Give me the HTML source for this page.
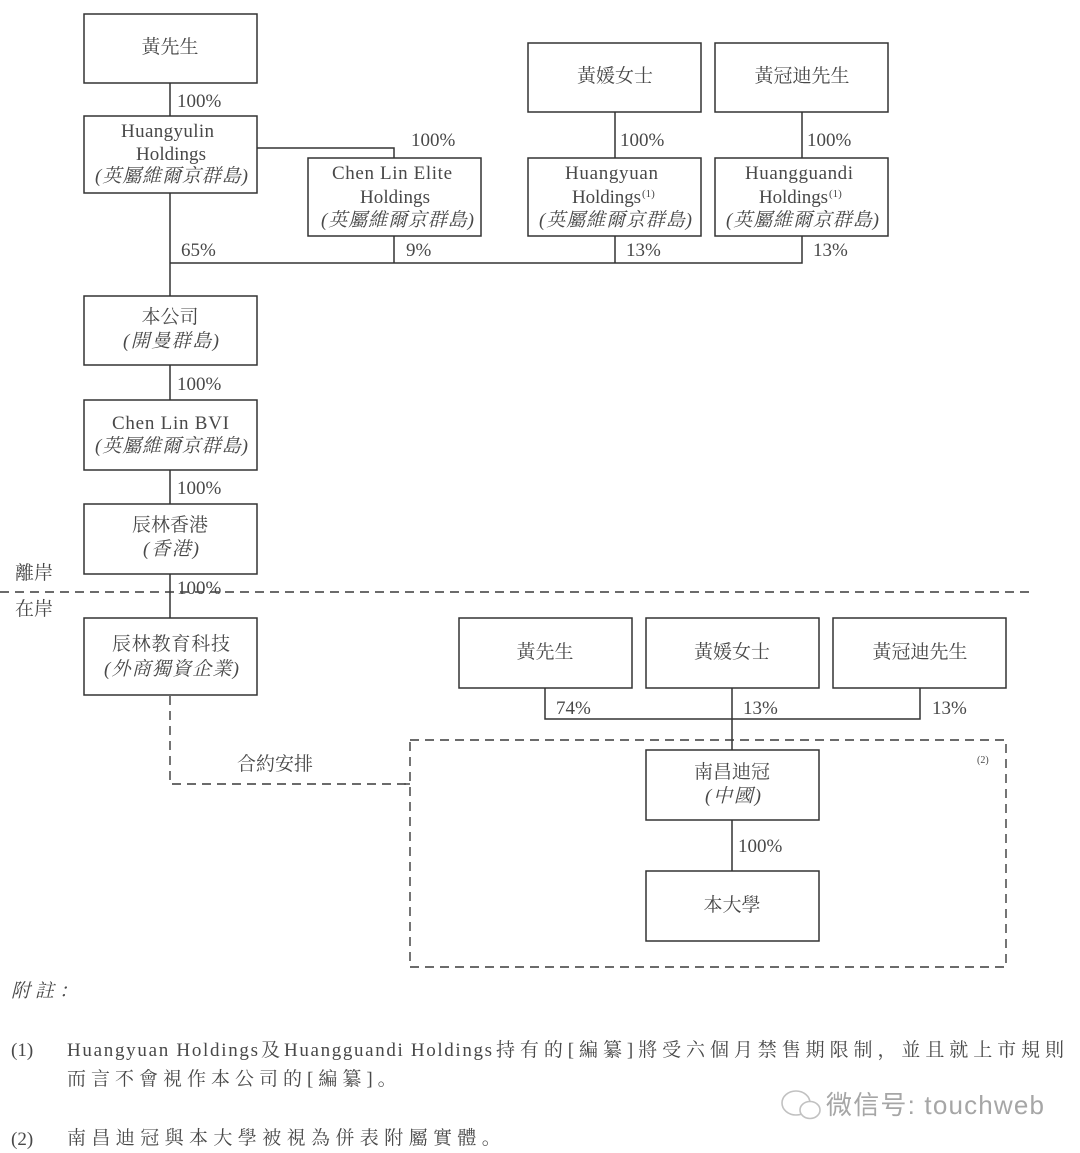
<!DOCTYPE html>
<html><head><meta charset="utf-8">
<style>
html,body{margin:0;padding:0;background:#fff}
svg{display:block}
text{font-family:"Liberation Serif","Noto Serif CJK SC",serif;fill:#484848;font-size:19px}
.m{text-anchor:middle}
.b{fill:#fff;stroke:#333;stroke-width:1.5}
.l{stroke:#333;stroke-width:1.5;fill:none}
.d{stroke:#3a3a3a;stroke-width:1.4;fill:none;stroke-dasharray:9 6}
.i{font-style:italic}
</style></head><body>
<svg width="1080" height="1153" viewBox="0 0 1080 1153" xmlns="http://www.w3.org/2000/svg">
<path class="l" d="M170 83V116M257 148H394V158M170 193V296M170 263H802V236M394 236V263M615 236V263M615 112V158M802 112V158M170 365V400M170 470V504M170 574V618M545 688V719H920V688M732 688V750M732 820V871"/>
<path class="d" d="M0 592H1030M170 696V784H410M410 740H1006V967H410Z"/>
<path class="d" d="M404 784H410" style="stroke-dasharray:none"/>
<rect class="b" x="84" y="14" width="173" height="69"/>
<rect class="b" x="84" y="116" width="173" height="77"/>
<rect class="b" x="308" y="158" width="173" height="78"/>
<rect class="b" x="528" y="43" width="173" height="69"/>
<rect class="b" x="715" y="43" width="173" height="69"/>
<rect class="b" x="528" y="158" width="173" height="78"/>
<rect class="b" x="715" y="158" width="173" height="78"/>
<rect class="b" x="84" y="296" width="173" height="69"/>
<rect class="b" x="84" y="400" width="173" height="70"/>
<rect class="b" x="84" y="504" width="173" height="70"/>
<rect class="b" x="84" y="618" width="173" height="77"/>
<rect class="b" x="459" y="618" width="173" height="70"/>
<rect class="b" x="646" y="618" width="173" height="70"/>
<rect class="b" x="833" y="618" width="173" height="70"/>
<rect class="b" x="646" y="750" width="173" height="70"/>
<rect class="b" x="646" y="871" width="173" height="70"/>
<text class="m" x="170" y="53">黃先生</text>
<text x="121" y="137" textLength="93" lengthAdjust="spacing">Huangyulin</text><text x="136" y="160" textLength="70" lengthAdjust="spacing">Holdings</text><text class="i" x="95" y="182" textLength="153" lengthAdjust="spacing">(英屬維爾京群島)</text>
<text x="332" y="179" textLength="120" lengthAdjust="spacing">Chen Lin Elite</text><text x="360" y="203" textLength="70" lengthAdjust="spacing">Holdings</text><text class="i" x="321" y="226" textLength="153" lengthAdjust="spacing">(英屬維爾京群島)</text>
<text class="m" x="615" y="82">黃媛女士</text><text class="m" x="802" y="82">黃冠迪先生</text>
<text x="565" y="179" textLength="93" lengthAdjust="spacing">Huangyuan</text><text x="572" y="203" textLength="69" lengthAdjust="spacing">Holdings</text><text x="642" y="197" style="font-size:11px">(1)</text><text class="i" x="539" y="226" textLength="153" lengthAdjust="spacing">(英屬維爾京群島)</text>
<text x="745" y="179" textLength="108" lengthAdjust="spacing">Huangguandi</text><text x="759" y="203" textLength="69" lengthAdjust="spacing">Holdings</text><text x="829" y="197" style="font-size:11px">(1)</text><text class="i" x="726" y="226" textLength="153" lengthAdjust="spacing">(英屬維爾京群島)</text>
<text class="m" x="170" y="323">本公司</text><text class="i" x="123" y="347" textLength="96" lengthAdjust="spacing">(開曼群島)</text>
<text x="112" y="429" textLength="117" lengthAdjust="spacing">Chen Lin BVI</text><text class="i" x="95" y="452" textLength="153" lengthAdjust="spacing">(英屬維爾京群島)</text>
<text class="m" x="170" y="531">辰林香港</text><text class="i" x="143" y="555" textLength="56" lengthAdjust="spacing">(香港)</text>
<text x="112" y="650" textLength="118" lengthAdjust="spacing">辰林教育科技</text><text class="i" x="104" y="675" textLength="135" lengthAdjust="spacing">(外商獨資企業)</text>
<text class="m" x="545" y="658">黃先生</text><text class="m" x="732" y="658">黃媛女士</text><text class="m" x="920" y="658">黃冠迪先生</text>
<text class="m" x="732" y="778">南昌迪冠</text><text class="i" x="705" y="802" textLength="56" lengthAdjust="spacing">(中國)</text>
<text class="m" x="732" y="911">本大學</text>
<text x="177" y="107">100%</text><text x="411" y="146">100%</text><text x="620" y="146">100%</text><text x="807" y="146">100%</text>
<text x="181" y="256">65%</text><text x="406" y="256">9%</text><text x="626" y="256">13%</text><text x="813" y="256">13%</text>
<text x="177" y="390">100%</text><text x="177" y="494">100%</text><text x="177" y="594">100%</text>
<text x="15" y="579">離岸</text><text x="15" y="615">在岸</text>
<text x="556" y="714">74%</text><text x="743" y="714">13%</text><text x="932" y="714">13%</text>
<text x="237" y="770">合約安排</text><text x="738" y="852">100%</text>
<text x="977" y="763" style="font-size:10px">(2)</text>
<text x="11" y="997" class="i" letter-spacing="5">附註：</text>
<text x="11" y="1056">(1)</text>
<text x="67" y="1056" textLength="191" lengthAdjust="spacing">Huangyuan Holdings</text>
<text x="261" y="1056">及</text>
<text x="284" y="1056" textLength="208" lengthAdjust="spacing">Huangguandi Holdings</text>
<text x="496" y="1056" textLength="568" lengthAdjust="spacing">持有的[編纂]將受六個月禁售期限制，並且就上市規則</text>
<text x="67" y="1085" letter-spacing="5">而言不會視作本公司的[編纂]。</text>
<text x="11" y="1145">(2)</text>
<text x="67" y="1144" letter-spacing="5.4">南昌迪冠與本大學被視為併表附屬實體。</text>
<g opacity=".6"><ellipse cx="796" cy="1103" rx="14" ry="12" fill="none" stroke="#999" stroke-width="1.6"/><ellipse cx="810" cy="1110" rx="10" ry="8.5" fill="#fff" stroke="#999" stroke-width="1.6"/></g>
<text x="826" y="1114" textLength="218" lengthAdjust="spacing" style="font-family:'Liberation Sans','Noto Sans CJK SC',sans-serif;font-size:26px;fill:#a6a6a6">微信号: touchweb</text>
</svg>
</body></html>
